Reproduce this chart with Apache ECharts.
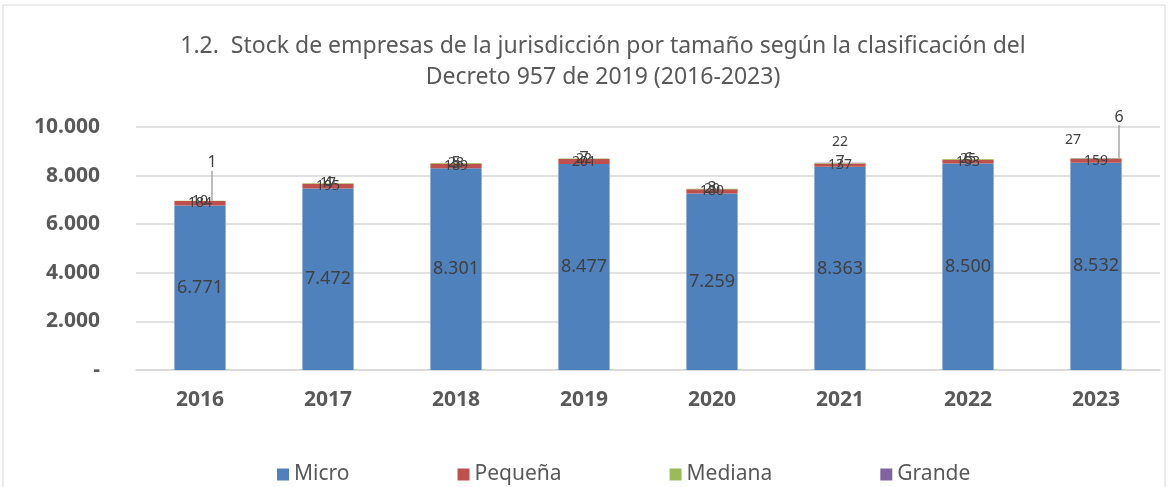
<!DOCTYPE html>
<html>
<head>
<meta charset="utf-8">
<script src="https://cdn.jsdelivr.net/npm/echarts@6/dist/echarts.min.js"></script>
<style>
  html, body { margin: 0; padding: 0; background: #fff; }
  #chart { width: 1170px; height: 487px; }
</style>
</head>
<body>
<div id="chart"></div>
<script>
const years = ["2016", "2017", "2018", "2019", "2020", "2021", "2022", "2023"];
const micro = [6771, 7472, 8301, 8477, 7259, 8363, 8500, 8532];
const pequena = [184, 195, 189, 201, 180, 137, 153, 159];
const mediana = [10, 17, 28, 22, 20, 22, 25, 27];
const grande = [1, 4, 5, 7, 3, 7, 6, 6];

const font = "Noto Sans";
const fmt = (v) => v === 0 ? "-" : String(v).replace(/\B(?=(\d{3})+(?!\d))/g, ".");

// etiquetas movidas a mano como en el original (serie-dato)
const moved = {
  "3-0": [12, -38], "3-7": [23, -41],
  "2-5": [0, -21], "2-7": [-23, -18],
};

const myChart = echarts.init(document.getElementById("chart"));

function mkSeries(name, data, color, labelSize) {
  return {
    name: name,
    type: "bar",
    stack: "total",
    barWidth: "40%",
    data: data,
    itemStyle: { color: color },
    label: {
      show: true,
      position: "inside",
      color: "#404040",
      fontFamily: font,
      fontSize: labelSize,
      formatter: (p) => fmt(p.value),
    },
  };
}

const series = [
  mkSeries("Micro", micro, "#4F81BD", 18),
  mkSeries("Pequeña", pequena, "#C0504D", 14),
  mkSeries("Mediana", mediana, "#9BBB59", 14),
  mkSeries("Grande", grande, "#8064A2", 14),
];
series[3].label.fontSize = 16;
series[3].labelLine = { show: true, lineStyle: { color: "#a6a6a6", width: 1.5 } };
series.forEach((s) => {
  s.labelLayout = (params) => {
    const m = moved[params.seriesIndex + "-" + params.dataIndex];
    return m ? { dx: m[0], dy: m[1] } : {};
  };
});

const options = {
  animation: false,
  title: {
    text: "1.2.  Stock de empresas de la jurisdicción por tamaño según la clasificación del\nDecreto 957 de 2019 (2016-2023)",
    left: 598,
    textAlign: "center",
    top: 26,
    textStyle: {
      fontFamily: font,
      fontSize: 23,
      fontWeight: "normal",
      color: "#595959",
      lineHeight: 31,
    },
  },
  legend: {
    left: 272,
    top: 459,
    itemWidth: 12,
    itemHeight: 12,
    itemGap: 108,
    icon: "rect",
    textStyle: { fontFamily: font, fontSize: 21, color: "#595959" },
    data: ["Micro", "Pequeña", "Mediana", "Grande"],
  },
  grid: { left: 136, right: 10, top: 127, bottom: 117 },
  xAxis: {
    type: "category",
    data: years,
    axisTick: { show: false },
    axisLine: { lineStyle: { color: "#d9d9d9", width: 1.5 } },
    axisLabel: {
      margin: 20,
      fontFamily: font,
      fontSize: 21,
      fontWeight: "bold",
      color: "#595959",
    },
  },
  yAxis: {
    type: "value",
    min: 0,
    max: 10000,
    interval: 2000,
    axisLine: { show: false },
    axisTick: { show: false },
    splitLine: { lineStyle: { color: "#d9d9d9", width: 1.5 } },
    axisLabel: {
      margin: 36,
      fontFamily: font,
      fontSize: 21,
      fontWeight: "bold",
      color: "#595959",
      formatter: fmt,
    },
  },
  graphic: [{
    type: "rect",
    shape: { x: 3, y: 5, width: 1162, height: 490 },
    style: { fill: null, stroke: "#d9d9d9", lineWidth: 1 },
    silent: true,
    z: -1,
  }],
  series: series,
};

myChart.setOption(options);
</script>
</body>
</html>
